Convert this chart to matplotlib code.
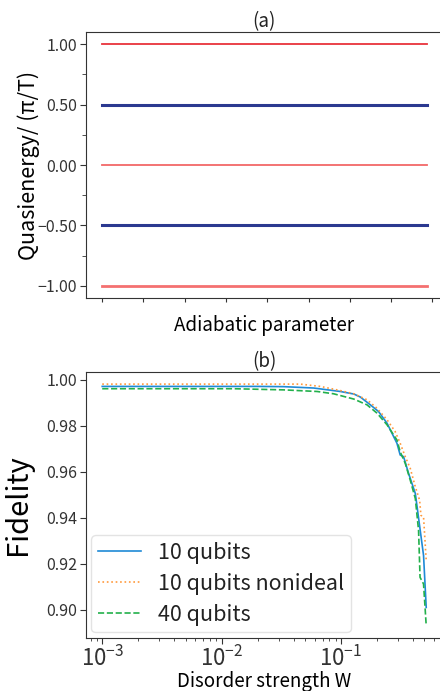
import matplotlib
matplotlib.use('Agg')
import matplotlib.pyplot as plt
import numpy as np

plt.rcParams['font.family'] = ['Noto Sans CJK SC', 'DejaVu Sans']
plt.rcParams['axes.edgecolor'] = '#333333'
plt.rcParams['xtick.color'] = '#333333'
plt.rcParams['ytick.color'] = '#333333'
plt.rcParams['text.color'] = '#222222'

# --- panel (a): quasienergy levels vs adiabatic parameter ---
adiabatic = np.linspace(0, 7.86, 40)
red_levels = [1.0, 0.0, -1.0]
red_colors = ['#e8333b', '#f26868', '#f47070']
red_widths = [1.3, 1.3, 2.0]
blue_levels = [0.5, -0.5]
blue_color = '#2b3990'

# --- panel (b): fidelity vs disorder strength ---
w_10 = [0.001, 0.002, 0.005, 0.01, 0.02, 0.033, 0.059, 0.0986, 0.128, 0.145,
        0.176, 0.206, 0.243, 0.294, 0.313, 0.334, 0.368, 0.419, 0.491, 0.517]
f_10 = [0.9971, 0.9971, 0.9971, 0.9971, 0.9971, 0.9970, 0.9964, 0.9949, 0.9938, 0.9925,
        0.9891, 0.9862, 0.9811, 0.9724, 0.9673, 0.9666, 0.9593, 0.9506, 0.9237, 0.9011]

w_10n = [0.001, 0.002, 0.005, 0.01, 0.02, 0.0456, 0.0671, 0.0986, 0.128, 0.165,
         0.200, 0.243, 0.284, 0.313, 0.345, 0.380, 0.419, 0.455, 0.467, 0.491, 0.517]
f_10n = [0.9981, 0.9981, 0.9981, 0.9981, 0.9981, 0.9981, 0.9971, 0.9953, 0.9939, 0.9913,
         0.9876, 0.9826, 0.9775, 0.9724, 0.9666, 0.9615, 0.9535, 0.9477, 0.9411, 0.9404, 0.9215]

w_40 = [0.001, 0.002, 0.005, 0.0126, 0.033, 0.063, 0.0867, 0.128, 0.165, 0.200,
        0.243, 0.294, 0.313, 0.345, 0.380, 0.419, 0.446, 0.459, 0.491, 0.517]
f_40 = [0.9961, 0.9961, 0.9961, 0.9961, 0.9956, 0.9949, 0.9939, 0.9916, 0.9891, 0.9855,
        0.9804, 0.9738, 0.9687, 0.9637, 0.9564, 0.9484, 0.9346, 0.9142, 0.9113, 0.8932]

fig = plt.figure(figsize=(4.4, 6.91), dpi=100)

# Top panel
ax1 = fig.add_axes([0.1955, 0.5687, 0.8107, 0.385])
for lev, c, lw in zip(red_levels, red_colors, red_widths):
    ax1.plot(adiabatic, np.full_like(adiabatic, lev), color=c, lw=lw)
for lev in blue_levels:
    ax1.plot(adiabatic, np.full_like(adiabatic, lev), color=blue_color, lw=2.2)
ax1.set_yticks([-1.0, -0.5, 0.0, 0.5, 1.0])
ax1.set_yticks([-0.75, -0.25, 0.25, 0.75], minor=True)
ax1.set_yticklabels(['\u22121.00', '\u22120.50', '0.00', '0.50', '1.00'],
                    family=['Noto Sans CJK SC', 'DejaVu Sans'])
ax1.set_xticks(np.arange(0, 9))
ax1.set_xticklabels([])
ax1.tick_params(axis='y', labelsize=11.5, length=4, pad=2.5)
ax1.tick_params(axis='y', which='minor', length=3)
ax1.tick_params(axis='x', length=3)
ax1.set_ylabel('Quasienergy/ (\u03c0/T)', fontsize=15.5, labelpad=-2)
ax1.set_xlabel('Adiabatic parameter', fontsize=13.5, labelpad=6)
ax1.set_title('(a)', fontsize=13.5, pad=2)

# Bottom panel
ax2 = fig.add_axes([0.1955, 0.0771, 0.81, 0.3845])
ax2.plot(w_10, f_10, color='#1f8ad6', lw=1.2, label='10 qubits')
ax2.plot(w_10n, f_10n, color='#ff9a3c', lw=1.2, ls=':', label='10 qubits nonideal')
ax2.plot(w_40, f_40, color='#22b04b', lw=1.2, ls='--', label='40 qubits')
ax2.set_xscale('log')
ax2.set_yticks([0.90, 0.92, 0.94, 0.96, 0.98, 1.00])
ax2.set_yticklabels(['0.90', '0.92', '0.94', '0.96', '0.98', '1.00'])
ax2.tick_params(axis='y', labelsize=11.5, length=4, pad=2.5)
ax2.tick_params(axis='x', labelsize=16, length=4, pad=2)
ax2.tick_params(axis='x', which='minor', length=2)
ax2.set_ylabel('Fidelity', fontsize=21, labelpad=9)
ax2.set_xlabel('Disorder strength W', fontsize=13.5, labelpad=-0.5)
ax2.set_title('(b)', fontsize=13.5, pad=2)
ax2.legend(loc='lower left', fontsize=15.5, handlelength=2.0, borderpad=0.3,
           labelspacing=0.42, handletextpad=0.8, borderaxespad=0.25,
           framealpha=0.8, edgecolor='#dddddd')

fig.savefig('out.png', dpi=100)
